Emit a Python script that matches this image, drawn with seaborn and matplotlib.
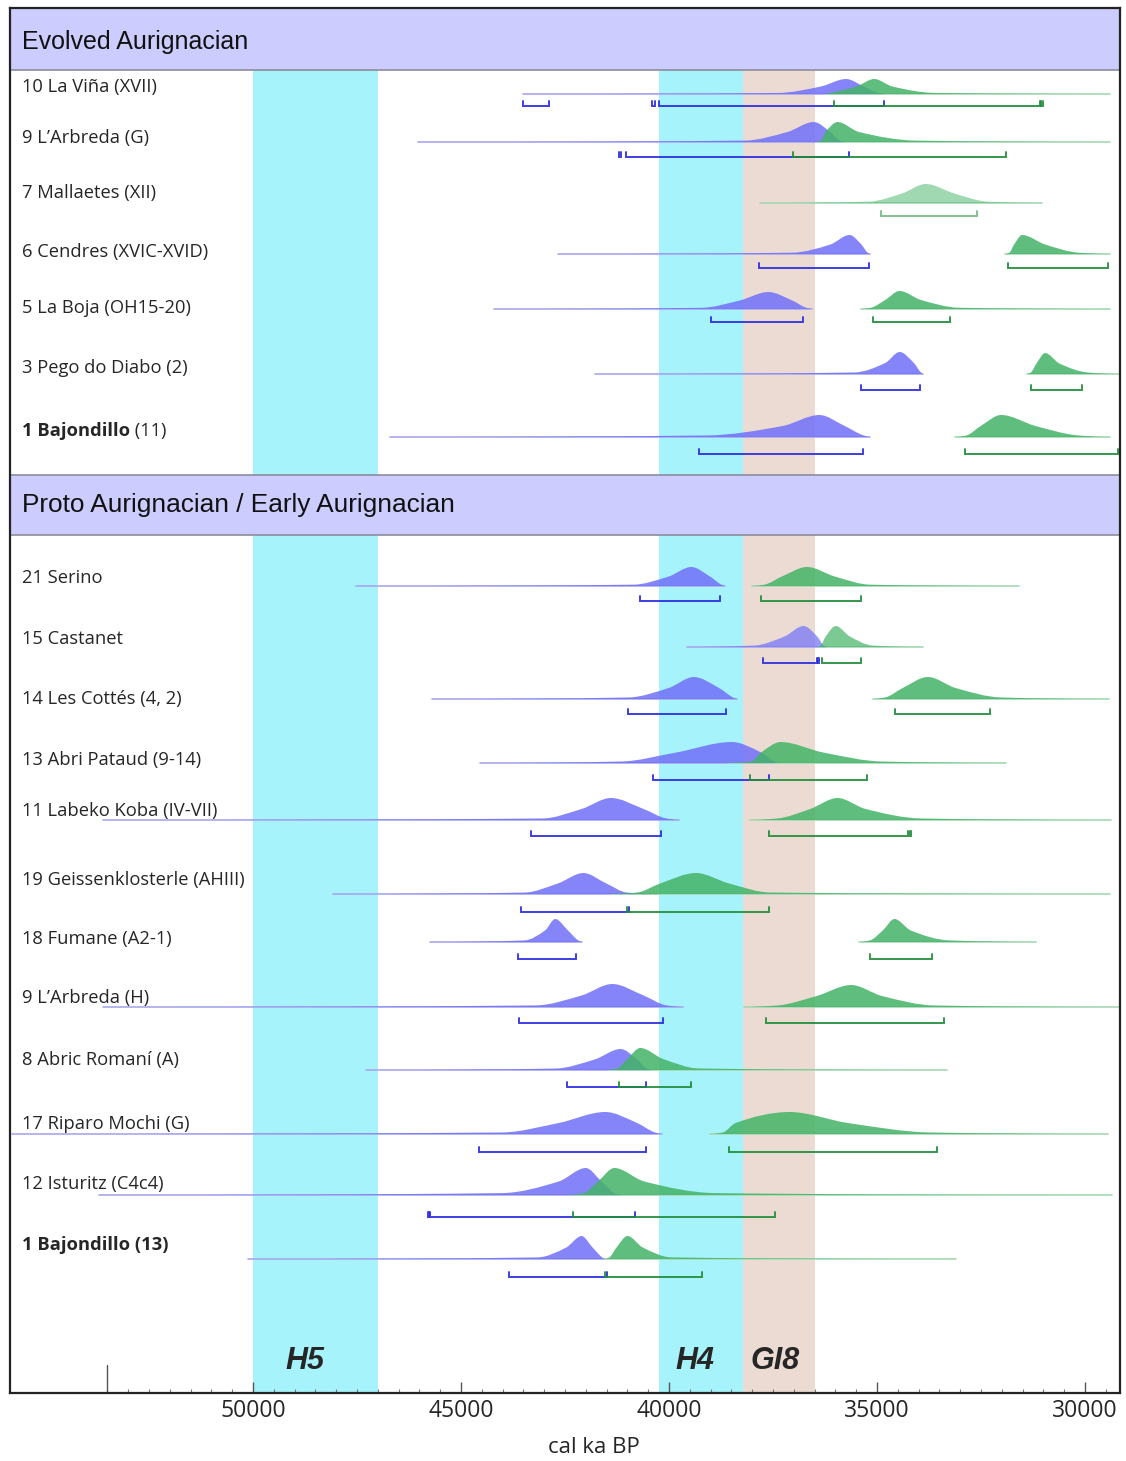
import numpy as np
import pandas as pd
import matplotlib
matplotlib.use("Agg")
import matplotlib.pyplot as plt
import seaborn as sns
from matplotlib.ticker import FixedLocator
from matplotlib.path import Path
from matplotlib.patches import PathPatch

# ---- data (years cal BP) ----
sites = ["10 La Viña (XVII)", "9 L’Arbreda (G)", "7 Mallaetes (XII)", "6 Cendres (XVIC-XVID)",
         "5 La Boja (OH15-20)", "3 Pego do Diabo (2)", "1 Bajondillo (11)",
         "21 Serino", "15 Castanet", "14 Les Cottés (4, 2)", "13 Abri Pataud (9-14)",
         "11 Labeko Koba (IV-VII)", "19 Geissenklosterle (AHIII)", "18 Fumane (A2-1)",
         "9 L’Arbreda (H)", "8 Abric Romaní (A)", "17 Riparo Mochi (G)", "12 Isturitz (C4c4)",
         "1 Bajondillo (13)"]

# knots of each probability curve: tail start, low, half, peak, half, low, tail end
knot_levels = [0, 0.07, 0.5, 1, 0.5, 0.07, 0]
blue_knots = [
    [43507, 37383, 36350, 35742, 35318, 34974, 34802],
    [46042, 38185, 37153, 36522, 36121, 35892, 35777],
    None,
    [42659, 37038, 36121, 35662, 35375, 35226, 35169],
    [44207, 39218, 38300, 37612, 37038, 36694, 36557],
    [41775, 35547, 34802, 34458, 34114, 33942, 33884],
    [46708, 39103, 37268, 36385, 35777, 35318, 35169],
    [47534, 40855, 40008, 39464, 39016, 38738, 38653],
    [39572, 37951, 37225, 36765, 36438, 36281, 36221],
    [45695, 40976, 40008, 39403, 38798, 38459, 38362],
    [44536, 41161, 39826, 38492, 37785, 37471, 37393],
    [53600, 43045, 42103, 41396, 40611, 40062, 39748],
    [48085, 43473, 42673, 42058, 41505, 41013, 40275],
    [45748, 43473, 42981, 42735, 42427, 42181, 42095],
    [53600, 43202, 42103, 41365, 40611, 40062, 39669],
    [47284, 42731, 41789, 41161, 40768, 40533, 40454],
    [55800, 44023, 42651, 41536, 40765, 40336, 40164],
    [53713, 44023, 42651, 41999, 41622, 41313, 41193],
    [50117, 43160, 42470, 42102, 41837, 41607, 41550],
]
green_knots = [
    [36235, 36120, 35490, 35066, 34630, 33598, 29411],
    [36465, 36350, 36235, 35949, 35433, 34056, 29411],
    [37818, 35203, 34400, 33827, 33139, 32336, 31040],
    [31934, 31819, 31705, 31510, 30959, 30156, 29411],
    [35375, 35146, 34802, 34458, 33942, 33024, 29411],
    [31395, 31303, 31166, 30959, 30615, 29927, 29181],
    [33116, 32852, 32508, 32015, 31189, 30156, 29411],
    [38012, 37709, 37286, 36680, 36015, 35168, 31598],
    [36414, 36354, 36233, 35991, 35652, 35108, 33898],
    [35108, 34805, 34382, 33777, 33111, 32022, 29421],
    [38570, 38021, 37785, 37314, 36294, 34881, 31897],
    [38052, 37393, 36608, 35948, 35273, 33939, 29386],
    [41382, 40767, 40213, 39352, 38553, 37569, 29389],
    [35441, 35170, 34863, 34580, 34186, 33264, 31173],
    [38209, 37393, 36451, 35618, 34881, 33625, 29160],
    [41475, 41239, 41004, 40690, 40140, 39277, 33311],
    [39015, 38707, 38400, 37100, 35700, 33733, 29446],
    [42394, 42051, 41708, 41313, 40593, 38878, 29360],
    [41550, 41435, 41262, 40998, 40630, 39940, 33097],
]
blue_height = [15, 20, 0, 19, 17, 22, 22, 19, 21, 22, 21, 22, 21, 23, 23, 21, 22, 27, 23]
green_height = [15, 20, 19, 19, 18, 21, 22, 19, 21, 22, 21, 22, 21, 23, 22, 22, 22, 27, 23]

blue_ranges = [
    [(43507, 42888), (40410, 40330), (40250, 34825)],
    [(41202, 41145), (41030, 35685)],
    [],
    [(37841, 35203)],
    [(38988, 36775)],
    [(35375, 33964)],
    [(39275, 35341)],
    [(40686, 38786)],
    [(37733, 36440), (36420, 36402)],
    [(40976, 38641)],
    [(40376, 37597)],
    [(43312, 40187)],
    [(43559, 40951)],
    [(43633, 42243)],
    [(43594, 40140)],
    [(42448, 40564)],
    [(44572, 40559)],
    [(45790, 45760), (45738, 40816)],
    [(43850, 41492)],
]
green_ranges = [
    [(36040, 31090), (31050, 31000)],
    [(37015, 31900)],
    [(34893, 32588)],
    [(31854, 29445)],
    [(35089, 33254)],
    [(31303, 30064)],
    [(32875, 29200)],
    [(37794, 35374)],
    [(36318, 35374)],
    [(34563, 32288)],
    [(38052, 35242)],
    [(37597, 34250), (34200, 34174)],
    [(41013, 37606)],
    [(35170, 33670)],
    [(37675, 33389)],
    [(41208, 39481)],
    [(38569, 33562)],
    [(42308, 37455)],
    [(41550, 39215)],
]

events = ["H5", "H4", "GI8"]
event_span = [(50000, 47000), (40250, 38220), (38220, 36500)]

# ---- layout (pixel rows of the figure) ----
base_y = [94, 142, 203, 254, 309, 374, 437, 586, 647, 699, 763, 820, 894, 942, 1007, 1070, 1134, 1195, 1259]
range_y = [106, 157, 216, 268, 322, 390, 454, 601, 663, 714, 780, 836, 912, 959, 1023, 1087, 1152, 1217, 1277]
label_y = [87, 138, 193, 252, 308, 368, 431, 578, 639, 699, 760, 811, 880, 939, 998, 1060, 1124, 1184, 1245]
event_label_x = [48750, 39375, 37452]

BLUE = "#7070f9"
GREEN = "#43b366"
BLUE_LINE = "#2a2ae0"
GREEN_LINE = "#1f8c38"
faded = {2: 0.5, 8: 0.7}

sns.set_theme(style="white")
plt.rcParams["font.family"] = ["Open Sans", "DejaVu Sans"]

W, H = 1126, 1461
XL, XR = 55841, 29159
fig = plt.figure(figsize=(W / 100, H / 100), dpi=100)
ax = fig.add_axes([10 / W, (H - 1393) / H, 1110 / W, 1385 / H])
ax.set_xlim(XL, XR)
ax.set_ylim(1393, 8)

# climate event bands
band_colors = ["#a6f3fc", "#a6f3fc", "#ecdbd2"]
for (a, b), c in zip(event_span, band_colors):
    ax.axvspan(a, b, color=c, lw=0, zorder=0)

# baselines
rows = []
for i in range(len(sites)):
    for name, knots in (("blue", blue_knots[i]), ("green", green_knots[i])):
        if knots is None:
            continue
        rows.append({"year": knots[0], "y": base_y[i], "seg": f"{name}{i}", "col": name})
        rows.append({"year": knots[-1], "y": base_y[i], "seg": f"{name}{i}", "col": name})
base_df = pd.DataFrame(rows)
sns.lineplot(data=base_df[base_df.col == "blue"], x="year", y="y", units="seg", estimator=None,
             color="#a8a8ee", lw=1.2, ax=ax, zorder=2, sort=False)
sns.lineplot(data=base_df[base_df.col == "green"], x="year", y="y", units="seg", estimator=None,
             color="#a5d8b4", lw=1.2, ax=ax, zorder=2, sort=False)


def curve_patch(xs, ys, base, color, alpha):
    # smooth monotone outline through the knots, drawn as bezier segments
    xs = np.asarray(xs, float)
    ys = np.asarray(ys, float)
    hs = np.diff(xs)
    d = np.diff(ys) / hs
    m = np.zeros(len(xs))
    for i in range(1, len(xs) - 1):
        if d[i - 1] * d[i] > 0:
            w1 = 2 * hs[i] + hs[i - 1]
            w2 = hs[i] + 2 * hs[i - 1]
            m[i] = (w1 + w2) / (w1 / d[i - 1] + w2 / d[i])
    verts = [(xs[0], ys[0])]
    codes = [Path.MOVETO]
    for i in range(len(xs) - 1):
        h = hs[i]
        verts += [(xs[i] + h / 3, ys[i] + m[i] * h / 3),
                  (xs[i + 1] - h / 3, ys[i + 1] - m[i + 1] * h / 3),
                  (xs[i + 1], ys[i + 1])]
        codes += [Path.CURVE4] * 3
    verts += [(xs[-1], base), (xs[0], base), (xs[0], base)]
    codes += [Path.LINETO, Path.LINETO, Path.CLOSEPOLY]
    return PathPatch(Path(verts, codes), facecolor=color, edgecolor="none", alpha=alpha, zorder=3)


# probability curves
for i in range(len(sites)):
    a = faded.get(i, 0.85)
    for knots, h, col in ((blue_knots[i], blue_height[i], BLUE), (green_knots[i], green_height[i], GREEN)):
        if knots is None:
            continue
        ys = [base_y[i] - lv * h for lv in knot_levels]
        ax.add_patch(curve_patch(knots, ys, base_y[i], col, a))


# range brackets
def draw_range(segs, y, col, alpha):
    for x0, x1 in segs:
        ax.plot([x0, x0, x1, x1], [y - 5, y, y, y - 5], color=col, lw=1.4, alpha=alpha,
                solid_joinstyle="miter", zorder=4)


for i in range(len(sites)):
    a = 0.55 if i == 2 else 0.9
    draw_range(blue_ranges[i], range_y[i], BLUE_LINE, a)
    draw_range(green_ranges[i], range_y[i], GREEN_LINE, a)

# section headers
px = 0.0416  # pixels per year
for y0, y1, ty, fs, title in ((8, 70, 42, 18, "Evolved Aurignacian"),
                              (475, 535, 505, 18.9, "Proto Aurignacian / Early Aurignacian")):
    ax.axhspan(y0, y1, color="#ccccff", lw=0, zorder=6)
    ax.axhline(y1, color="#8c8c9c", lw=1.2, zorder=7)
    ax.axhline(y0, color="#8c8c9c", lw=1.2, zorder=7)
    ax.text(XL - 12 / px, ty, title, fontsize=fs, family="Liberation Sans",
            va="center", ha="left", color="#111111", zorder=8)

# site labels
for i, s in enumerate(sites):
    x = XL - 12 / px
    if i == 6:
        t = ax.text(x, label_y[i], "1 Bajondillo", fontsize=13.2, fontweight="bold", va="center", ha="left", zorder=8)
        ax.annotate(" (11)", xy=(1, 0.5), xycoords=t, fontsize=13.2, va="center", ha="left", zorder=8)
    elif i == 18:
        ax.text(x, label_y[i], s, fontsize=13.2, fontweight="bold", va="center", ha="left", zorder=8)
    else:
        ax.text(x, label_y[i], s, fontsize=13.2, va="center", ha="left", zorder=8)

# event labels
for name, x in zip(events, event_label_x):
    ax.text(x, 1361, name, fontsize=22, fontweight="bold", fontstyle="italic",
            family="Liberation Sans", ha="center", va="center", zorder=8)

# axis
ax.xaxis.set_major_locator(FixedLocator([50000, 45000, 40000, 35000, 30000]))
ax.xaxis.set_minor_locator(FixedLocator(np.arange(29500, 53501, 500)))
ax.set_yticks([])
ax.tick_params(axis="x", which="major", direction="in", length=8, width=1, color="#555555",
               labelsize=16.5, pad=4, bottom=True)
ax.tick_params(axis="x", which="minor", direction="in", length=3, width=0.8, color="#777777", bottom=True)
ax.plot([53500, 53500], [1393, 1365], color="#555555", lw=1, zorder=5)
ax.set_xlabel("")
ax.set_ylabel("")
ax.text(50000 - (594 - 253) / px, 1447, "cal ka BP", fontsize=16, ha="center", va="center",
        clip_on=False)
for sp in ax.spines.values():
    sp.set_color("#222222")
    sp.set_linewidth(1.6)
    sp.set_zorder(10)

fig.savefig("out.png", dpi=100)
